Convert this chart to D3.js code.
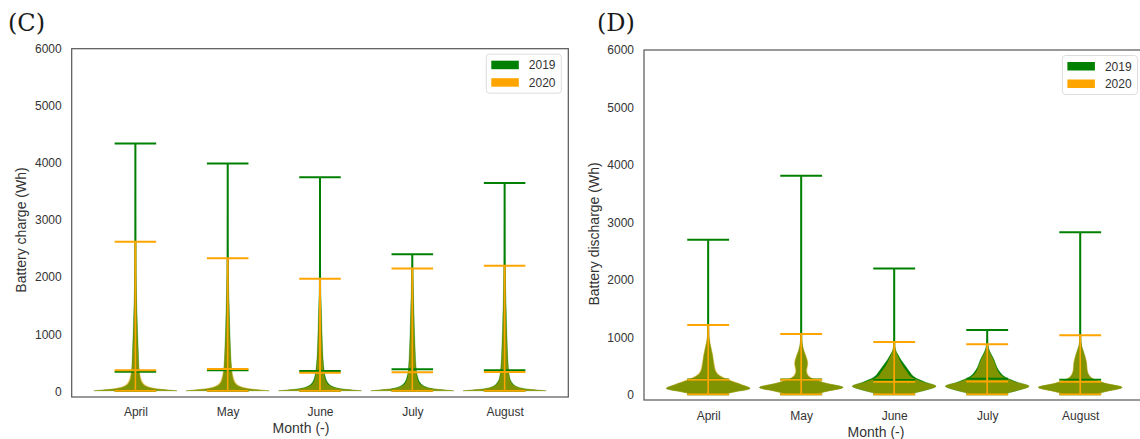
<!DOCTYPE html>
<html><head><meta charset="utf-8">
<script src="https://cdn.jsdelivr.net/npm/d3@7/dist/d3.min.js"></script>
<style>
html,body{margin:0;padding:0;background:#fff;}
svg{display:block;font-family:"Liberation Sans",Arial,sans-serif;}
</style></head>
<body><svg id="chart" width="1140" height="439"></svg>
<script>
// ---------- data ----------
const months = ["April","May","June","July","August"];
const years = ["2019","2020"];
const yTicks = [0,1000,2000,3000,4000,5000,6000];

const chargeMin2019  = [10,10,10,10,10];
const chargeMean2019 = [344,368,356,386,368];
const chargeMax2019  = [4340,3990,3750,2400,3650];
const chargeMin2020  = [10,10,10,10,10];
const chargeMean2020 = [368,391,326,333,339];
const chargeMax2020  = [2620,2330,1970,2150,2200];

const dischargeMin2019  = [8,8,8,8,8];
const dischargeMean2019 = [265,265,256,279,261];
const dischargeMax2019  = [2700,3810,2200,1130,2830];
const dischargeMin2020  = [8,8,8,8,8];
const dischargeMean2020 = [261,261,227,233,227];
const dischargeMax2020  = [1215,1060,920,880,1035];

// density profiles: [value, relative half-width]
const chargeShape2019 = [
  [[10,1],[35,0.6],[80,0.28],[150,0.16],[250,0.11],[430,0.085],[700,0.07],[1000,0.055],[1400,0.038],[1800,0.022],[2400,0.01],[3200,0.005]],
  [[10,1],[35,0.6],[80,0.3],[150,0.17],[250,0.12],[430,0.09],[700,0.07],[1000,0.055],[1400,0.04],[1800,0.025],[2400,0.01],[3200,0.005]],
  [[10,1],[35,0.62],[80,0.32],[150,0.19],[250,0.13],[430,0.09],[700,0.065],[1000,0.05],[1400,0.035],[1800,0.02],[2400,0.01],[3200,0.004]],
  [[10,1],[35,0.62],[80,0.32],[150,0.19],[250,0.13],[430,0.09],[700,0.07],[1000,0.055],[1400,0.04],[1800,0.025],[2200,0.01]],
  [[10,1],[35,0.6],[80,0.3],[150,0.18],[250,0.12],[430,0.09],[700,0.07],[1000,0.055],[1400,0.04],[1800,0.025],[2400,0.01],[3200,0.004]]
];
const chargeShape2020 = [
  [[10,1],[35,0.64],[80,0.33],[150,0.19],[250,0.13],[430,0.085],[700,0.06],[1000,0.045],[1400,0.03],[1800,0.018],[2300,0.008]],
  [[10,1],[35,0.66],[80,0.34],[150,0.2],[250,0.14],[430,0.09],[700,0.065],[1000,0.045],[1400,0.03],[1800,0.015]],
  [[10,1],[35,0.58],[80,0.28],[150,0.16],[250,0.11],[430,0.075],[700,0.055],[1000,0.04],[1400,0.025],[1700,0.012]],
  [[10,1],[35,0.58],[80,0.28],[150,0.16],[250,0.11],[430,0.08],[700,0.06],[1000,0.045],[1400,0.03],[1800,0.015]],
  [[10,1],[35,0.58],[80,0.28],[150,0.16],[250,0.11],[430,0.08],[700,0.06],[1000,0.045],[1400,0.03],[1800,0.015]]
];
const dischargeShape2019 = [
  [[8,0.33],[50,0.62],[110,1],[180,0.78],[256,0.48],[330,0.27],[400,0.18],[500,0.14],[600,0.12],[700,0.1],[800,0.07],[900,0.04],[1000,0.02],[1200,0.008]],
  [[8,0.3],[60,0.6],[129,1],[200,0.6],[256,0.34],[343,0.15],[420,0.12],[547,0.15],[650,0.12],[740,0.075],[850,0.035],[1000,0.012],[1300,0.004]],
  [[8,0.33],[80,0.75],[151,1],[220,0.75],[300,0.5],[400,0.37],[500,0.27],[600,0.17],[700,0.09],[780,0.035],[900,0.012],[1200,0.004]],
  [[8,0.33],[80,0.75],[151,1],[220,0.72],[300,0.45],[400,0.3],[500,0.22],[600,0.17],[700,0.1],[800,0.04],[950,0.01]],
  [[8,0.33],[60,0.62],[129,1],[200,0.6],[256,0.37],[350,0.2],[450,0.16],[550,0.15],[650,0.12],[750,0.08],[850,0.035],[1000,0.012],[1300,0.004]]
];
const dischargeShape2020 = [
  [[8,0.35],[50,0.64],[110,1],[180,0.8],[256,0.52],[330,0.3],[400,0.2],[500,0.16],[600,0.13],[700,0.11],[800,0.08],[900,0.05],[1000,0.025],[1100,0.01]],
  [[8,0.32],[60,0.62],[129,1],[200,0.62],[256,0.36],[343,0.17],[420,0.14],[547,0.165],[650,0.13],[740,0.085],[850,0.035],[950,0.012]],
  [[8,0.35],[80,0.72],[151,1],[220,0.7],[300,0.42],[400,0.3],[500,0.2],[600,0.13],[700,0.07],[800,0.025]],
  [[8,0.35],[80,0.72],[151,1],[220,0.68],[300,0.4],[400,0.26],[500,0.2],[600,0.15],[700,0.08],[800,0.025]],
  [[8,0.35],[60,0.64],[129,1],[200,0.62],[256,0.38],[350,0.21],[450,0.17],[550,0.16],[650,0.13],[750,0.08],[850,0.035],[950,0.012]]
];

// ---------- drawing ----------
const svg = d3.select("#chart");
const COL = {"2019":"#008000","2020":"#FFA500"};
const BODY_OP = {"2019":1,"2020":0.5};
const VW = 0.9;

function panel(cfg){
  const g = svg.append("g");
  const x = d3.scaleLinear().domain([0.31,5.69]).range([cfg.left,cfg.right]);
  const y = d3.scaleLinear().domain(cfg.yDomain).range([cfg.bottom,cfg.top]);

  const series = [
    {year:"2019", min:cfg.min[0], mean:cfg.mean[0], max:cfg.max[0], shape:cfg.shape[0]},
    {year:"2020", min:cfg.min[1], mean:cfg.mean[1], max:cfg.max[1], shape:cfg.shape[1]}
  ];

  // bodies
  series.forEach(s=>{
    months.forEach((m,i)=>{
      const pos = i+1;
      const half = x(pos+VW/2)-x(pos);
      const prof = [[s.min[i], s.shape[i][0][1]]].concat(s.shape[i].filter(p=>p[0]>s.min[i]))
                    .concat([[s.max[i],0]]);
      const area = d3.area()
        .y(d=>y(d[0]))
        .x0(d=>x(pos)-half*d[1])
        .x1(d=>x(pos)+half*d[1])
        .curve(d3.curveMonotoneY);
      g.append("path").attr("d",area(prof))
        .attr("fill",COL[s.year]).attr("fill-opacity",BODY_OP[s.year])
        .attr("stroke",COL[s.year]).attr("stroke-opacity",BODY_OP[s.year]*0.5).attr("stroke-width",0.6);
    });
  });
  // lines
  series.forEach(s=>{
    months.forEach((m,i)=>{
      const pos = i+1;
      const c0 = x(pos-VW/4), c1 = x(pos+VW/4);
      g.append("line").attr("x1",x(pos)).attr("x2",x(pos)).attr("y1",y(s.min[i])).attr("y2",y(s.max[i]))
        .attr("stroke",COL[s.year]).attr("stroke-width",2);
      [s.min[i], s.mean[i], s.max[i]].forEach(v=>{
        g.append("line").attr("x1",c0).attr("x2",c1).attr("y1",y(v)).attr("y2",y(v))
          .attr("stroke",COL[s.year]).attr("stroke-width",2);
      });
    });
  });

  // frame
  g.append("rect").attr("x",cfg.left).attr("y",cfg.top)
    .attr("width",cfg.right-cfg.left).attr("height",cfg.bottom-cfg.top)
    .attr("fill","none").attr("stroke","#555").attr("stroke-width",1.2);

  // y axis
  const ya = g.append("g").attr("transform",`translate(${cfg.left},0)`)
    .call(d3.axisLeft(y).tickValues(yTicks).tickSize(0).tickPadding(10).tickFormat(d3.format("d")));
  ya.select(".domain").remove();
  ya.selectAll("text").attr("font-size",12).attr("fill","#333").attr("font-family","Liberation Sans, Arial, sans-serif");

  // x axis
  const xa = g.append("g").attr("transform",`translate(0,${cfg.bottom})`)
    .call(d3.axisBottom(x).tickValues([1,2,3,4,5]).tickSize(0).tickPadding(cfg.xPad).tickFormat(d=>months[d-1]));
  xa.select(".domain").remove();
  xa.selectAll("text").attr("font-size",12).attr("fill","#333").attr("font-family","Liberation Sans, Arial, sans-serif");

  // labels
  g.append("text").attr("x",cfg.xLabelX).attr("y",cfg.xLabelY).attr("text-anchor","middle")
    .attr("dominant-baseline","central").attr("font-size",14).attr("fill","#333").text("Month (-)");
  g.append("text").attr("transform",`translate(${cfg.yLabelX},${cfg.yLabelY}) rotate(-90)`)
    .attr("text-anchor","middle").attr("dominant-baseline","central")
    .attr("font-size",14).attr("fill","#333").text(cfg.ylabel);
  g.append("text").attr("x",cfg.titleX).attr("y",31).attr("font-family","DejaVu Serif, serif")
    .attr("font-size",24).attr("fill","#1a1a1a").text(cfg.title);

  // legend
  const L = g.append("g").attr("transform",`translate(${cfg.right-7-75},${cfg.top+5.5})`);
  L.append("rect").attr("x",0).attr("y",0).attr("width",75).attr("height",39).attr("rx",3)
    .attr("fill","#fff").attr("stroke","#ddd").attr("stroke-width",1);
  years.forEach((yr,k)=>{
    L.append("rect").attr("x",5).attr("y",6.5+k*17.5).attr("width",27.5).attr("height",8.5).attr("fill",COL[yr]);
    L.append("text").attr("x",42.5).attr("y",11+k*17.5).attr("dominant-baseline","central")
      .attr("font-size",12).attr("fill","#333").text(yr);
  });
}

panel({
  left:71.7, right:568.3, top:48.7, bottom:397, yDomain:[-100,6000],
  min:[chargeMin2019,chargeMin2020], mean:[chargeMean2019,chargeMean2020],
  max:[chargeMax2019,chargeMax2020], shape:[chargeShape2019,chargeShape2020],
  xPad:10.5, xLabelX:301, xLabelY:427.5, yLabelX:21, yLabelY:230,
  ylabel:"Battery charge (Wh)", title:"(C)", titleX:8
});
panel({
  left:644, right:1144.4, top:50, bottom:400, yDomain:[-90,6000],
  min:[dischargeMin2019,dischargeMin2020], mean:[dischargeMean2019,dischargeMean2020],
  max:[dischargeMax2019,dischargeMax2020], shape:[dischargeShape2019,dischargeShape2020],
  xPad:11, xLabelX:876, xLabelY:431.5, yLabelX:594, yLabelY:234,
  ylabel:"Battery discharge (Wh)", title:"(D)", titleX:597
});
</script></body></html>
